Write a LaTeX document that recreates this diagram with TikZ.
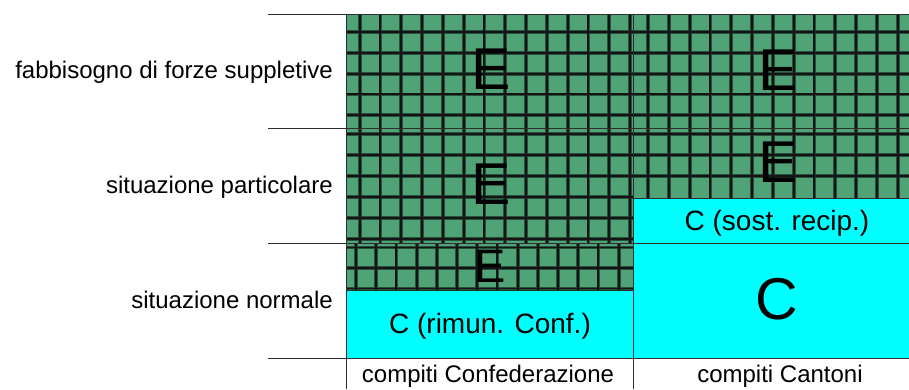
\documentclass[tikz,border=0pt]{standalone}
\usepackage{fontspec}
\setmainfont{Liberation Sans}
\definecolor{gfill}{RGB}{80,163,118}
\definecolor{cfill}{RGB}{0,255,255}
\definecolor{ghalo}{RGB}{38,82,60}
\definecolor{bline}{RGB}{45,45,45}
\begin{document}
\begin{tikzpicture}[x=1pt,y=-1pt,
  halo/.style={line width=3.8pt, draw=ghalo},
  core/.style={line width=1.9pt, draw=black!92},
  border/.style={line width=1pt, draw=bline},
  rowlabel/.style={anchor=base east, inner sep=0pt, font=\fontsize{24}{28}\selectfont},
  collabel/.style={anchor=base, inner sep=0pt, font=\fontsize{24}{28}\selectfont},
  boxlabel/.style={anchor=base, inner sep=0pt, font=\fontsize{28}{32}\selectfont},
  bigletter/.style={anchor=base, inner sep=0pt, font=\fontsize{59}{64}\selectfont},
]
\useasboundingbox (0,0) rectangle (909,389);

% ---- green grid blocks ----
\fill[gfill] (346,14) rectangle (633,290);
\fill[gfill] (633,14) rectangle (909,198);

% block left row 1
\begin{scope}
\clip (346,14) rectangle (633,128);
\foreach \k in {0,...,13} {\draw[halo] ({359.6+\k*20.8},14) -- ++(0,114);}
\foreach \k in {0,...,4} {\draw[halo] (346,{32+\k*20.8}) -- ++(287,0);}
\foreach \k in {0,...,13} {\draw[core] ({359.6+\k*20.8},14) -- ++(0,114);}
\foreach \k in {0,...,4} {\draw[core] (346,{32+\k*20.8}) -- ++(287,0);}
\end{scope}
% block left row 2
\begin{scope}
\clip (346,128) rectangle (633,243);
\foreach \k in {0,...,13} {\draw[halo] ({359.6+\k*20.8},128) -- ++(0,115);}
\foreach \k in {0,...,5} {\draw[halo] (346,{134+\k*21}) -- ++(287,0);}
\foreach \k in {0,...,13} {\draw[core] ({359.6+\k*20.8},128) -- ++(0,115);}
\foreach \k in {0,...,5} {\draw[core] (346,{134+\k*21}) -- ++(287,0);}
\end{scope}
% block left row 3
\begin{scope}
\clip (346,243) rectangle (633,290);
\foreach \k in {0,...,13} {\draw[halo] ({356+\k*20.2},243) -- ++(0,47);}
\foreach \k in {0,...,2} {\draw[halo] (346,{247.5+\k*20.5}) -- ++(287,0);}
\foreach \k in {0,...,13} {\draw[core] ({356+\k*20.2},243) -- ++(0,47);}
\foreach \k in {0,...,2} {\draw[core] (346,{247.5+\k*20.5}) -- ++(287,0);}
\end{scope}
% block right row 1
\begin{scope}
\clip (633,14) rectangle (909,128);
\foreach \k in {1,...,13} {\draw[halo] ({627.2+\k*20.8},14) -- ++(0,114);}
\foreach \k in {0,...,4} {\draw[halo] (633,{32+\k*20.8}) -- ++(276,0);}
\foreach \k in {1,...,13} {\draw[core] ({627.2+\k*20.8},14) -- ++(0,114);}
\foreach \k in {0,...,4} {\draw[core] (633,{32+\k*20.8}) -- ++(276,0);}
\end{scope}
% block right row 2
\begin{scope}
\clip (633,128) rectangle (909,198);
\foreach \k in {1,...,13} {\draw[halo] ({627.2+\k*20.8},128) -- ++(0,70);}
\foreach \k in {0,...,2} {\draw[halo] (633,{134+\k*21}) -- ++(276,0);}
\foreach \k in {1,...,13} {\draw[core] ({627.2+\k*20.8},128) -- ++(0,70);}
\foreach \k in {0,...,2} {\draw[core] (633,{134+\k*21}) -- ++(276,0);}
\end{scope}

% ---- cyan areas ----
\fill[cfill] (346,290) rectangle (633,358);
\fill[cfill] (633,198) rectangle (909,358);

% ---- frame lines ----
\draw[border] (268,14) -- (909,14);
\draw[border] (268,128.5) -- (346,128.5);
\draw[border] (268,243) -- (346,243);
\draw[border] (268,358) -- (909,358);
\draw[border] (346,14) -- (346,389);
\draw[border] (633,14) -- (633,389);
\draw[border] (346,128.5) -- (909,128.5);
\draw[border] (346,243) -- (633,243);
\draw[border] (346,290) -- (633,290);
\draw[border] (633,198) -- (909,198);
\draw[border] (633,243) -- (909,243);

% ---- row labels ----
\node[rowlabel] (r1) at (333,78) {fabbisogno di forze suppletive};
\node[rowlabel] (r2) at (333,193) {situazione particolare};
\node[rowlabel] (r3) at (333,308) {situazione normale};

% ---- column labels ----
\node[collabel] (c1) at (488,382) {compiti Confederazione};
\node[collabel] (c2) at (780,382) {compiti Cantoni};

% ---- cell letters ----
\node[bigletter] (e1) at (491,89) {E};
\node[bigletter] (e2) at (491,204) {E};
\node[bigletter, font=\fontsize{47}{52}\selectfont] (e3) at (490,282) {E};
\node[bigletter] (e4) at (778,90) {E};
\node[bigletter] (e5) at (778,182) {E};
\node[bigletter] (cbig) at (777,319) {C};
\node[boxlabel] (crim) at (490,333) {C (rimun. Conf.)};
\node[boxlabel] (csost) at (777,230) {C (sost. recip.)};
\end{tikzpicture}
\end{document}
